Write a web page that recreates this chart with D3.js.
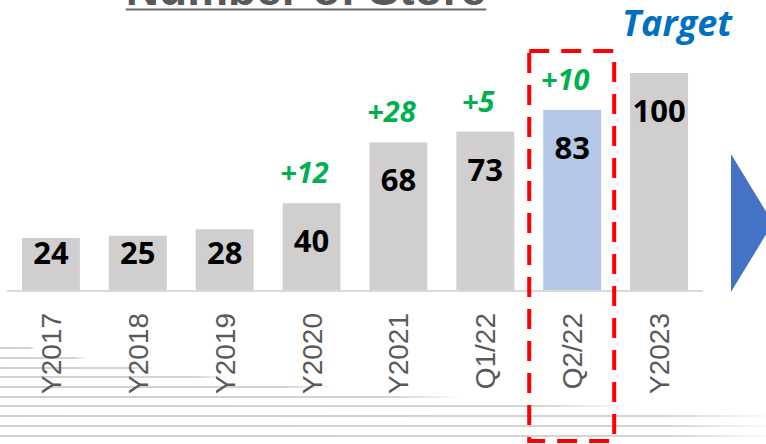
<!DOCTYPE html>
<html>
<head>
<meta charset="utf-8">
<script src="https://cdn.jsdelivr.net/npm/d3@7"></script>
<style>
  html, body { margin: 0; padding: 0; background: #fff; }
  svg { display: block; }
</style>
</head>
<body>
<svg width="766" height="444"></svg>
<script>

let categories = ['Y2017', 'Y2018', 'Y2019', 'Y2020', 'Y2021', 'Q1/22', 'Q2/22', 'Y2023']
let stores = [24, 25, 28, 40, 68, 73, 83, 100]
let growth = [null, null, null, '+12', '+28', '+5', '+10', null]
let highlight = 'Q2/22'

// background streaks (y, end x)
let streaks = [[348, 35], [358, 88], [368, 155], [377, 230], [387, 335], [397, 463], [406, 633], [416, 780], [426, 780], [436, 780]]

let svg = d3.select('svg'),
    width = +svg.attr('width'),
    height = +svg.attr('height')

let defs = svg.append('defs')
let grad = defs.append('linearGradient').attr('id', 'fade').attr('x1', 0).attr('x2', 1)
grad.append('stop').attr('offset', '0%').attr('stop-color', '#cfcfcf')
grad.append('stop').attr('offset', '85%').attr('stop-color', '#d4d4d4')
grad.append('stop').attr('offset', '100%').attr('stop-color', '#d4d4d4').attr('stop-opacity', 0)

svg.append('g')
  .selectAll('rect')
  .data(streaks)
  .enter().append('rect')
  .attr('x', 0)
  .attr('y', d => d[0] - 1)
  .attr('width', d => d[1])
  .attr('height', 2)
  .attr('fill', 'url(#fade)')

let x = d3.scaleBand()
  .domain(categories)
  .range([7, 703])
  .paddingInner(0.333)
  .paddingOuter(0.172)

let y = d3.scaleLinear()
  .domain([0, 100])
  .range([290, 73])

// title (cut off at top, as in the source slide)
let title = svg.append('text')
  .attr('x', 306)
  .attr('y', 5)
  .attr('text-anchor', 'middle')
  .attr('font-family', 'Liberation Sans, Arial, sans-serif')
  .attr('font-weight', 'bold')
  .attr('font-size', 46)
  .attr('fill', '#595959')
  .text('Number of Store')

let tb = title.node().getBBox()
svg.append('line')
  .attr('x1', tb.x).attr('x2', tb.x + tb.width)
  .attr('y1', 9.5).attr('y2', 9.5)
  .attr('stroke', '#6b6b6b')
  .attr('stroke-width', 2)

svg.append('g')
  .selectAll('rect')
  .data(categories)
  .enter().append('rect')
  .attr('x', d => x(d))
  .attr('y', (d, i) => y(stores[i]))
  .attr('width', x.bandwidth())
  .attr('height', (d, i) => y(0) - y(stores[i]))
  .attr('fill', d => d === highlight ? '#b4c7e7' : '#d0cece')

// baseline
svg.append('line')
  .attr('x1', 7).attr('x2', 703)
  .attr('y1', y(0) + 1).attr('y2', y(0) + 1)
  .attr('stroke', '#d9d9d9')
  .attr('stroke-width', 2)

// values
svg.append('g')
  .selectAll('text')
  .data(categories)
  .enter().append('text')
  .attr('x', d => x(d) + x.bandwidth() / 2)
  .attr('y', (d, i) => Math.min(y(stores[i]) + 49, 264))
  .attr('text-anchor', 'middle')
  .attr('font-family', 'Open Sans, sans-serif')
  .attr('font-weight', 'bold')
  .attr('font-size', 31)
  .attr('fill', '#000')
  .text((d, i) => stores[i])

// growth labels
svg.append('g')
  .selectAll('text')
  .data(categories.filter((d, i) => growth[i]))
  .enter().append('text')
  .attr('x', d => x(d) + x.bandwidth() / 2 - 7)
  .attr('y', d => y(stores[categories.indexOf(d)]) - 20)
  .attr('text-anchor', 'middle')
  .attr('font-family', 'Open Sans, sans-serif')
  .attr('font-weight', 'bold')
  .attr('font-style', 'italic')
  .attr('font-size', 29)
  .attr('fill', '#00b050')
  .text(d => growth[categories.indexOf(d)])

// category labels
svg.append('g')
  .selectAll('text')
  .data(categories)
  .enter().append('text')
  .attr('transform', d => `translate(${x(d) + x.bandwidth() / 2 + 10},313) rotate(-90)`)
  .attr('text-anchor', 'end')
  .attr('font-family', 'Liberation Sans, Arial, sans-serif')
  .attr('font-size', 28)
  .attr('fill', '#595959')
  .text(d => d)

// target text
svg.append('text')
  .attr('x', 677)
  .attr('y', 36)
  .attr('text-anchor', 'middle')
  .attr('font-family', 'Open Sans, sans-serif')
  .attr('font-weight', 'bold')
  .attr('font-style', 'italic')
  .attr('font-size', 36)
  .attr('fill', '#0070c0')
  .text('Target')

// highlight box
svg.append('rect')
  .attr('x', x(highlight) - 14)
  .attr('y', 51)
  .attr('width', x.bandwidth() + 27)
  .attr('height', 390)
  .attr('fill', 'none')
  .attr('stroke', '#ff0000')
  .attr('stroke-width', 4)
  .attr('stroke-dasharray', '20,12')

// arrow
svg.append('path')
  .attr('d', 'M731,154 L731,292 L773,223 Z')
  .attr('fill', '#4472c4')

</script>
</body>
</html>
